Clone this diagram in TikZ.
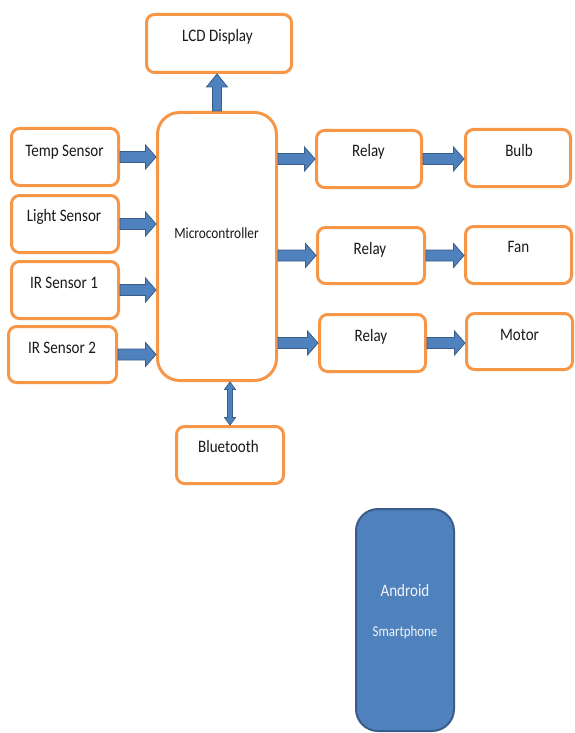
\documentclass[tikz,border=0pt]{standalone}
\usepackage{fontspec}
\setmainfont{Carlito}[FakeStretch=0.86]
\usetikzlibrary{calc}
\definecolor{orng}{HTML}{F79646}
\definecolor{bfill}{HTML}{4F81BD}
\definecolor{bdark}{HTML}{385D8A}
\tikzset{
  box/.style={draw=orng, line width=3pt, rounded corners=8pt, fill=white, inner sep=0pt},
  txt/.style={anchor=base, inner sep=0pt, text=black!90, font=\fontsize{17.5}{20}\selectfont},
  barrow/.style={fill=bfill, draw=bdark, line width=0.8pt, line join=miter}
}
\newcommand\harrow[2]{\path[barrow] let \p1=(#1), \p2=(#2) in
  (\x1,\y1+5.5pt) -- (\x2-10.5pt,\y1+5.5pt) -- (\x2-10.5pt,\y1+12pt) -- (\x2,\y1)
  -- (\x2-10.5pt,\y1-12pt) -- (\x2-10.5pt,\y1-5.5pt) -- (\x1,\y1-5.5pt) -- cycle;}
\newcommand\varrowup[2]{\path[barrow] let \p1=(#1), \p2=(#2) in
  (\x1-4.5pt,\y1) -- (\x1-4.5pt,\y2-13pt) -- (\x1-10.5pt,\y2-13pt) -- (\x1,\y2)
  -- (\x1+10.5pt,\y2-13pt) -- (\x1+4.5pt,\y2-13pt) -- (\x1+4.5pt,\y1) -- cycle;}
\newcommand\dvarrow[2]{\path[barrow] let \p1=(#1), \p2=(#2) in
  (\x1,\y1) -- (\x1+5.5pt,\y1-7.5pt) -- (\x1+2.5pt,\y1-7.5pt) -- (\x1+2.5pt,\y2+7.5pt)
  -- (\x1+5.5pt,\y2+7.5pt) -- (\x1,\y2) -- (\x1-5.5pt,\y2+7.5pt) -- (\x1-2.5pt,\y2+7.5pt)
  -- (\x1-2.5pt,\y1-7.5pt) -- (\x1-5.5pt,\y1-7.5pt) -- cycle;}
\begin{document}
\begin{tikzpicture}[x=1pt,y=-1pt]
\clip (0,0) rectangle (574,733);
\fill[white] (0,0) rectangle (574,733);
% boxes
\node[box, minimum width=145pt, minimum height=58pt] (lcd) at (219,43.5) {};
\node[box, minimum width=119pt, minimum height=268pt, rounded corners=22pt] (micro) at (217,246.5) {};
\node[box, minimum width=107pt, minimum height=57pt] (temp) at (65,157) {};
\node[box, minimum width=107pt, minimum height=57pt] (light) at (65,224) {};
\node[box, minimum width=107pt, minimum height=57pt] (ir1) at (65,290) {};
\node[box, minimum width=108pt, minimum height=56pt] (ir2) at (62.5,354.5) {};
\node[box, minimum width=105pt, minimum height=57pt] (relay1) at (369,159) {};
\node[box, minimum width=105pt, minimum height=57pt] (bulb) at (518,158) {};
\node[box, minimum width=107pt, minimum height=56pt] (relay2) at (371,255.5) {};
\node[box, minimum width=106pt, minimum height=57pt] (fan) at (518.5,255) {};
\node[box, minimum width=106pt, minimum height=57pt] (relay3) at (372.5,343) {};
\node[box, minimum width=106pt, minimum height=56pt] (motor) at (519.5,341.5) {};
\node[box, minimum width=107pt, minimum height=57pt] (bt) at (230,455) {};
\node[draw=bdark, fill=bfill, line width=2pt, rounded corners=22pt, minimum width=98pt, minimum height=222pt, inner sep=0pt] (android) at (405,620) {};
% texts
\node[txt] (lcdT) at (217.5,42) {LCD Display};
\node[txt, font=\fontsize{15.5}{18}\selectfont] (microT) at (216.5,238) {Microcontroller};
\node[txt] (tempT) at (64.5,156) {Temp Sensor};
\node[txt] (lightT) at (64,221) {Light Sensor};
\node[txt] (ir1T) at (64,288.5) {IR Sensor 1};
\node[txt] (ir2T) at (62,353.5) {IR Sensor 2};
\node[txt] (relay1T) at (368.5,157) {Relay};
\node[txt] (bulbT) at (519,156) {Bulb};
\node[txt] (relay2T) at (370,254) {Relay};
\node[txt] (fanT) at (518.5,252.5) {Fan};
\node[txt] (relay3T) at (371,341.5) {Relay};
\node[txt] (motorT) at (519.5,340.5) {Motor};
\node[txt] (btT) at (228.5,452.5) {Bluetooth};
\node[txt, text=white!92!bfill] (andT) at (405,596.5) {Android};
\node[txt, text=white!92!bfill, font=\fontsize{15}{17}\selectfont] (smartT) at (405,636.5) {Smartphone};
% arrows
\varrowup{micro.north}{lcd.south}
\harrow{temp.east}{micro.west}
\harrow{light.east}{micro.west}
\harrow{ir1.east}{micro.west}
\harrow{ir2.east}{micro.west}
\harrow{micro.east |- relay1.west}{relay1.west}
\harrow{micro.east |- relay2.west}{relay2.west}
\harrow{micro.east |- relay3.west}{relay3.west}
\harrow{relay1.east}{bulb.west}
\harrow{relay2.east}{fan.west}
\harrow{relay3.east}{motor.west}
\dvarrow{micro.south -| bt.north}{bt.north}
\end{tikzpicture}
\end{document}
